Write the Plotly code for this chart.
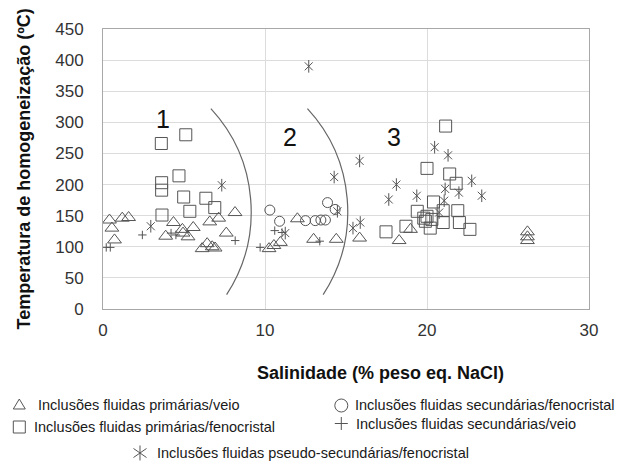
import plotly.graph_objects as go

# Canvas and plot-area geometry (pixels)
W, H = 624, 463
ML, MR, MT, MB = 103, 35, 29, 154

FONT = "Liberation Sans, Arial, sans-serif"
MARK = "#555555"
CURVE = "#666666"

# --- Fluid-inclusion measurements: salinity (% wt eq. NaCl) vs Th (°C) ---
prim_veio_x = [0.40, 0.55, 0.71, 1.19, 1.58, 3.87, 4.35, 4.90, 4.94, 5.25, 5.57,
               6.12, 6.43, 6.74, 6.92, 6.59, 7.14, 7.61, 8.15,
               10.25, 10.55, 10.95, 12.0, 13.0, 14.4, 15.84, 18.28, 18.98,
               26.2, 26.2, 26.2]
prim_veio_y = [143, 130, 111, 146, 147, 117, 139, 128, 122, 116, 131,
               97, 105, 100, 98, 140, 146, 122, 155,
               97, 102, 107, 145, 112, 112, 114, 110, 128,
               124, 116, 110]

prim_feno_x = [3.60, 5.11, 4.69, 3.62, 3.62, 4.98, 6.35, 6.90, 5.36, 3.64,
               21.15, 20.0, 21.4, 21.8, 20.4, 19.4, 21.0, 21.9, 20.0, 20.3,
               19.9, 19.8, 21.0, 22.0, 20.2, 22.65, 18.7, 17.47]
prim_feno_y = [266, 280, 214, 203, 191, 180, 178, 163, 157, 151,
               294, 226, 217, 202, 172, 157, 158, 158, 149, 144,
               141, 146, 139, 139, 130, 128, 133, 124]

sec_feno_x = [10.3, 10.9, 12.5, 13.1, 13.45, 13.73, 13.86, 14.33]
sec_feno_y = [159, 141, 142, 142, 143, 143, 171, 160]

sec_veio_x = [0.20, 0.45, 2.43, 4.20, 4.50, 8.16, 9.70, 10.60, 11.05, 13.38]
sec_veio_y = [99, 99, 119, 122, 119, 110, 99, 126, 123, 109]

pseudo_x = [12.7, 7.33, 2.95, 15.84, 14.27, 14.47, 15.43, 15.88, 18.11, 17.64,
            19.37, 20.47, 21.3, 21.12, 21.97, 22.76, 23.38, 21.06, 20.75, 11.25]
pseudo_y = [390, 199, 133, 238, 212, 157, 130, 139, 200, 176,
            182, 260, 247, 193, 187, 206, 182, 174, 155, 122]

# Boundaries between fields 1|2 and 2|3 (cubic Bezier: start, ctrl1, ctrl2, end)
bound_12 = [(6.66, 322), (9.57, 240), (9.97, 117), (7.63, 23)]
bound_23 = [(12.62, 322), (15.53, 240), (15.93, 117), (13.59, 23)]

field_labels = ["1", "2", "3"]
field_x = [3.70, 11.55, 17.94]
field_y = [306, 277, 277]

x_ticks = [0, 10, 20, 30]
y_ticks = [0, 50, 100, 150, 200, 250, 300, 350, 400, 450]

legend_names = [
    "Inclusões fluidas primárias/veio",
    "Inclusões fluidas primárias/fenocristal",
    "Inclusões fluidas secundárias/fenocristal",
    "Inclusões fluidas secundárias/veio",
    "Inclusões fluidas pseudo-secundárias/fenocristal",
]

fig = go.Figure()


def markers(x, y, symbol, size):
    fig.add_trace(go.Scatter(
        x=x, y=y, mode="markers", showlegend=False, hoverinfo="skip",
        marker=dict(symbol=symbol, size=size, color=MARK,
                    line=dict(color=MARK, width=1))))


markers(prim_veio_x, prim_veio_y, "triangle-up-open", 12)
markers(prim_feno_x, prim_feno_y, "square-open", 12)
markers(sec_feno_x, sec_feno_y, "circle-open", 10)
markers(sec_veio_x, sec_veio_y, "cross-thin-open", 6)
# six-armed star = x + vertical bar
markers(pseudo_x, pseudo_y, "x-thin-open", 8)
markers(pseudo_x, pseudo_y, "line-ns-open", 9)

plot_w = W - ML - MR
plot_h = H - MT - MB


def px2paper(px, py):
    return (px - ML) / plot_w, (H - MB - py) / plot_h


def pathp(segments):
    """Build an SVG path in paper units from lists of pixel points."""
    out = []
    for seg, closed in segments:
        pts = [px2paper(x, y) for x, y in seg]
        s = "M " + " L ".join(f"{x:.5f},{y:.5f}" for x, y in pts)
        out.append(s + (" Z" if closed else ""))
    return " ".join(out)


# Legend keys (pixel centres) drawn as paper-referenced shapes
key_px = [(19.3, 405), (19.3, 427), (341.3, 405.5), (341.3, 423.5), (140, 453)]
text_x = [36, 31.5, 353, 354, 155]

shapes = []
kline = dict(color=MARK, width=1)
cx, cy = key_px[0]
shapes.append(dict(type="path", xref="paper", yref="paper", line=kline,
                   path=pathp([([(cx - 6, cy + 4), (cx + 6, cy + 4), (cx, cy - 6)], True)])))
cx, cy = key_px[1]
shapes.append(dict(type="path", xref="paper", yref="paper", line=kline,
                   path=pathp([([(cx - 6, cy - 6), (cx + 6, cy - 6), (cx + 6, cy + 6),
                                 (cx - 6, cy + 6)], True)])))
cx, cy = key_px[2]
x0, y0 = px2paper(cx - 6.5, cy + 6.5)
x1, y1 = px2paper(cx + 6.5, cy - 6.5)
shapes.append(dict(type="circle", xref="paper", yref="paper", line=kline,
                   x0=x0, y0=y0, x1=x1, y1=y1))
cx, cy = key_px[3]
shapes.append(dict(type="path", xref="paper", yref="paper", line=kline,
                   path=pathp([([(cx - 6.5, cy), (cx + 6.5, cy)], False),
                               ([(cx, cy - 6.5), (cx, cy + 6.5)], False)])))
cx, cy = key_px[4]
shapes.append(dict(type="path", xref="paper", yref="paper", line=kline,
                   path=pathp([([(cx, cy - 7.5), (cx, cy + 7.5)], False),
                               ([(cx - 6.5, cy - 4.5), (cx + 6.5, cy + 4.5)], False),
                               ([(cx - 6.5, cy + 4.5), (cx + 6.5, cy - 4.5)], False)])))

annotations = []
for name, tx, (_, ky) in zip(legend_names, text_x, key_px):
    ax, ay = px2paper(tx, ky)
    annotations.append(dict(x=ax, y=ay, xref="paper", yref="paper", text=name,
                            showarrow=False, xanchor="left", yanchor="middle",
                            font=dict(family=FONT, size=14.5, color="#1a1a1a")))

for lab, fx, fy in zip(field_labels, field_x, field_y):
    annotations.append(dict(x=fx, y=fy, xref="x", yref="y", text=lab,
                            showarrow=False,
                            font=dict(family=FONT, size=25, color="#111111")))

tx, ty = px2paper(380, 373)
annotations.append(dict(x=tx, y=ty, xref="paper", yref="paper",
                        text="<b>Salinidade (% peso eq. NaCl)</b>",
                        showarrow=False, xanchor="center", yanchor="middle",
                        font=dict(family=FONT, size=18, color="#111111")))
tx, ty = px2paper(23, 169.5)
annotations.append(dict(x=tx, y=ty, xref="paper", yref="paper",
                        text="<b>Temperatura de homogeneização (ºC)</b>",
                        showarrow=False, textangle=-90,
                        xanchor="center", yanchor="middle",
                        font=dict(family=FONT, size=18, color="#111111")))


def bezier_path(pts):
    (x0, y0), (x1, y1), (x2, y2), (x3, y3) = pts
    return f"M {x0},{y0} C {x1},{y1} {x2},{y2} {x3},{y3}"


shapes += [dict(type="path", xref="x", yref="y", path=bezier_path(b),
                line=dict(color=CURVE, width=1.2))
           for b in (bound_12, bound_23)]

axis_common = dict(showgrid=True, gridcolor="#dcdcdc", gridwidth=1,
                   showline=True, linecolor="#a8a8a8", linewidth=1, mirror=True,
                   zeroline=False, ticks="outside", tickcolor="rgba(0,0,0,0)",
                   tickfont=dict(family=FONT, size=17, color="#333333"))

fig.update_layout(
    width=W, height=H,
    margin=dict(l=ML, r=MR, t=MT, b=MB, pad=0),
    paper_bgcolor="white", plot_bgcolor="white",
    showlegend=False,
    xaxis=dict(range=[0, 30], tickvals=x_ticks, ticklen=6, **axis_common),
    yaxis=dict(range=[0, 450], tickvals=y_ticks, ticklen=15, **axis_common),
    annotations=annotations,
    shapes=shapes,
)

fig.write_html("out.html")
